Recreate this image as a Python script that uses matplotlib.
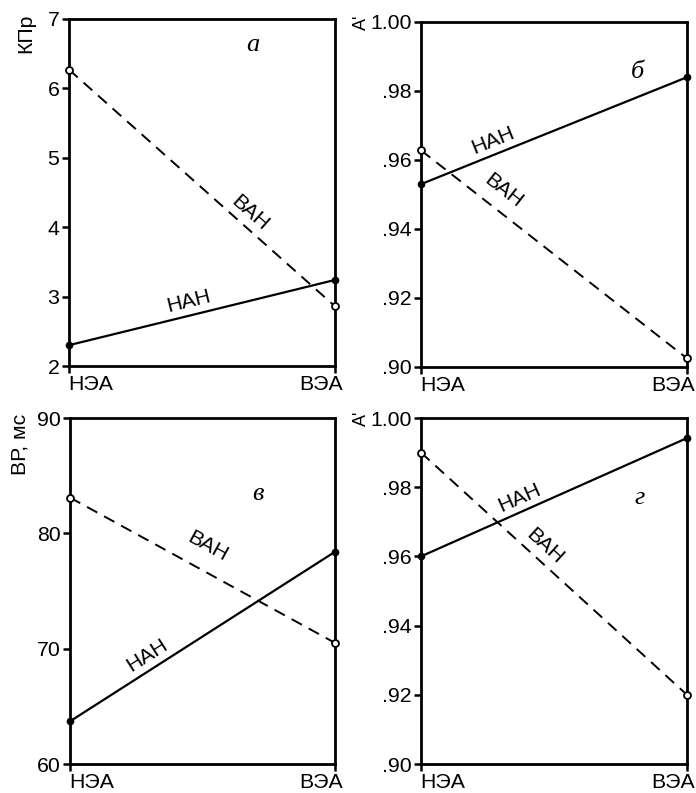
import numpy as np
import matplotlib
matplotlib.use("Agg")
import matplotlib.pyplot as plt
from matplotlib.transforms import ScaledTranslation

plt.rcParams['font.family'] = ['Liberation Sans', 'DejaVu Sans']

categories = ["НЭА", "ВЭА"]

# panel а: КПр
a_nan = [2.30, 3.24]
a_van = [6.27, 2.86]
a_ticks = [2, 3, 4, 5, 6, 7]
a_ticklabels = ["2", "3", "4", "5", "6", "7"]

# panel б: A'
b_nan = [0.953, 0.984]
b_van = [0.9628, 0.9025]
b_ticks = [0.90, 0.92, 0.94, 0.96, 0.98, 1.00]
b_ticklabels = [".90", ".92", ".94", ".96", ".98", "1.00"]

# panel в: ВР, мс
c_nan = [63.7, 78.4]
c_van = [83.1, 70.5]
c_ticks = [60, 70, 80, 90]
c_ticklabels = ["60", "70", "80", "90"]

# panel г: A'
d_nan = [0.960, 0.9942]
d_van = [0.990, 0.920]
d_ticks = [0.90, 0.92, 0.94, 0.96, 0.98, 1.00]
d_ticklabels = [".90", ".92", ".94", ".96", ".98", "1.00"]

W, H = 696, 793
FS = 15.3
fig = plt.figure(figsize=(W / 100, H / 100), dpi=100)

def px_axes(l, r, t, b):
    return fig.add_axes([l / W, 1 - b / H, (r - l) / W, (b - t) / H])

panels = [
    dict(box=(69, 335, 19, 366), nan=a_nan, van=a_van, ticks=a_ticks, tl=a_ticklabels,
         ylabel="КПр", ylfs=FS, ylab_xy=(-0.164, 0.96), letter="а", letter_xy=(0.69, 0.925),
         nan_lab=(0.45, 0.185), van_lab=(0.68, 0.44)),
    dict(box=(421, 687, 22, 367), nan=b_nan, van=b_van, ticks=b_ticks, tl=b_ticklabels,
         ylabel="A'", ylfs=13, ylab_xy=(-0.224, 1.0), letter="б", letter_xy=(0.815, 0.855),
         nan_lab=(0.27, 0.655), van_lab=(0.31, 0.51)),
    dict(box=(70, 335, 418, 764), nan=c_nan, van=c_van, ticks=c_ticks, tl=c_ticklabels,
         ylabel="ВР, мс", ylfs=FS, ylab_xy=(-0.19, 0.925), letter="в", letter_xy=(0.71, 0.78),
         nan_lab=(0.29, 0.315), van_lab=(0.52, 0.63)),
    dict(box=(421, 687, 418, 764), nan=d_nan, van=d_van, ticks=d_ticks, tl=d_ticklabels,
         ylabel="A'", ylfs=13, ylab_xy=(-0.224, 1.0), letter="г", letter_xy=(0.82, 0.77),
         nan_lab=(0.37, 0.77), van_lab=(0.465, 0.63)),
]

x = np.arange(len(categories))

for p in panels:
    ax = px_axes(*p["box"])
    ax.set_xlim(0, 1)
    ax.set_ylim(p["ticks"][0], p["ticks"][-1])
    ax.plot(x, p["nan"], color="black", lw=1.6, ls="-", marker="o", ms=4.5,
            mfc="black", mec="black", clip_on=False, zorder=3)
    ax.plot(x, p["van"], color="black", lw=1.4, ls=(0, (6, 4)), marker="o", ms=5,
            mfc="white", mec="black", mew=1.3, clip_on=False, zorder=3)
    ax.set_yticks(p["ticks"])
    ax.set_yticklabels(p["tl"], fontsize=FS)
    ax.set_xticks(x)
    ax.set_xticklabels(categories, fontsize=FS)
    ax.tick_params(axis="both", direction="out", length=5, width=1.8, colors="black")
    ax.tick_params(axis="y", pad=2)
    ax.tick_params(axis="x", pad=1.5)
    xl = ax.get_xticklabels()
    xl[0].set_horizontalalignment("left")
    xl[0].set_transform(xl[0].get_transform() + ScaledTranslation(-1 / 100, 0, fig.dpi_scale_trans))
    xl[1].set_horizontalalignment("right")
    xl[1].set_transform(xl[1].get_transform() + ScaledTranslation(8 / 100, 0, fig.dpi_scale_trans))
    for s in ax.spines.values():
        s.set_linewidth(2.0)
        s.set_color("black")
    ax.text(p["ylab_xy"][0], p["ylab_xy"][1], p["ylabel"], transform=ax.transAxes,
            rotation=90, ha="center", va="center", fontsize=p["ylfs"])
    ax.text(p["letter_xy"][0], p["letter_xy"][1], p["letter"], transform=ax.transAxes,
            ha="center", va="center", fontsize=19, style="italic",
            family=["Liberation Serif", "DejaVu Serif"])
    fig.canvas.draw()
    for key, series, txt in (("nan_lab", p["nan"], "НАН"), ("van_lab", p["van"], "ВАН")):
        p0 = ax.transData.transform((0, series[0]))
        p1 = ax.transData.transform((1, series[1]))
        ang = np.degrees(np.arctan2(p1[1] - p0[1], p1[0] - p0[0]))
        ax.text(p[key][0], p[key][1], txt, transform=ax.transAxes, rotation=ang,
                rotation_mode="anchor", ha="center", va="center", fontsize=FS)

fig.savefig("out.png", dpi=100)
